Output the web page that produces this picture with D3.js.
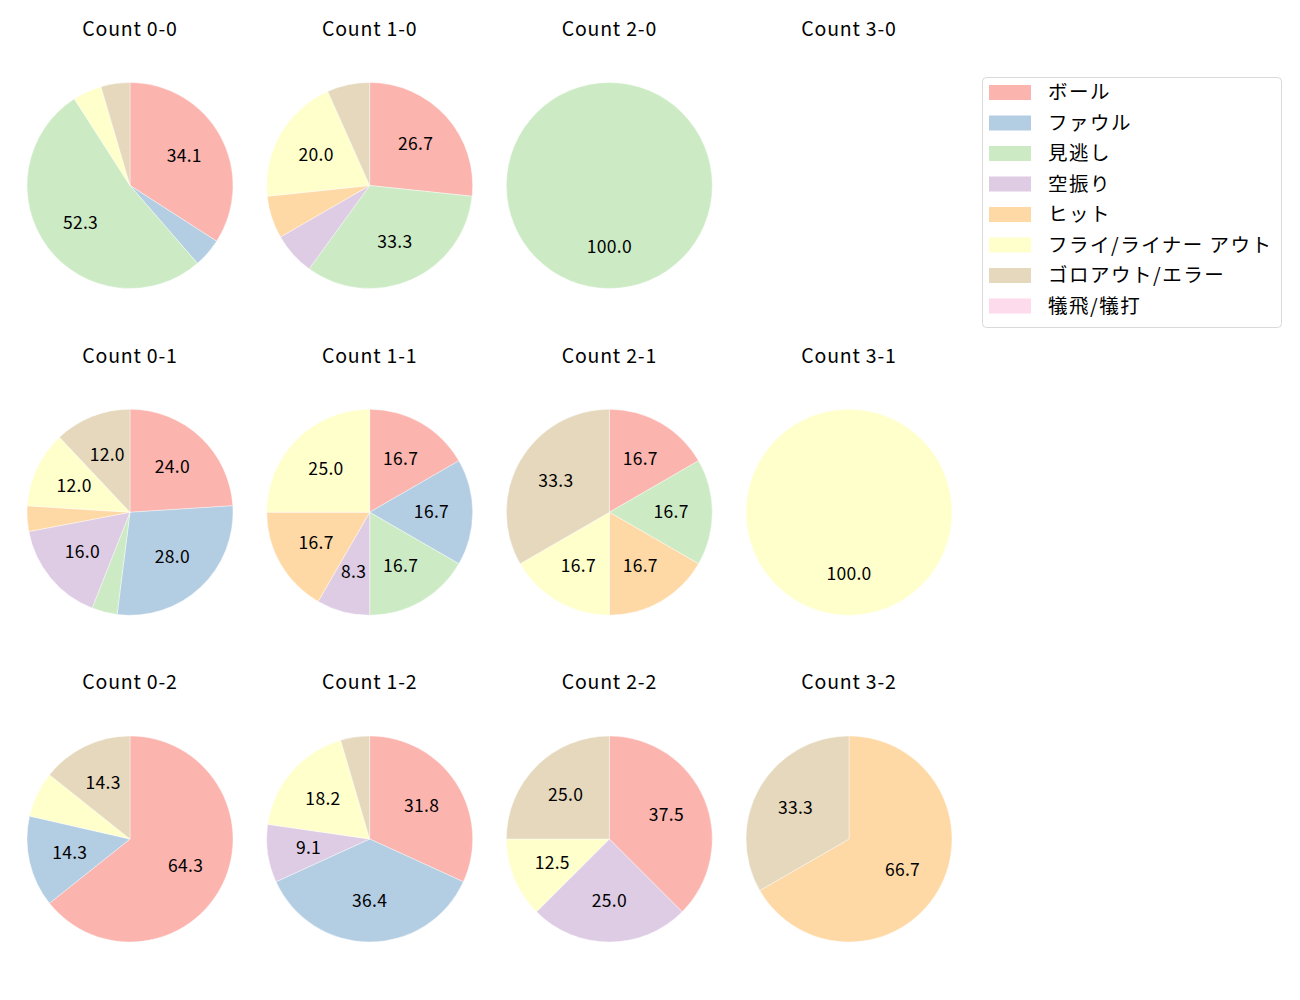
<!DOCTYPE html>
<html>
<head>
<meta charset="utf-8">
<script src="https://cdn.jsdelivr.net/npm/d3@7"></script>
<style>
  body { margin: 0; background: #fff; }
  text { font-family: "Noto Sans CJK JP", "Noto Sans", sans-serif; fill: #000; }
</style>
</head>
<body>
<div id="chart"></div>
<script>
const categories = ['ボール', 'ファウル', '見逃し', '空振り', 'ヒット', 'フライ/ライナー アウト', 'ゴロアウト/エラー', '犠飛/犠打']
const colors = ['#fbb4ae', '#b3cde3', '#ccebc5', '#decbe4', '#fed9a6', '#ffffcc', '#e5d8bd', '#fddaec']

const titles = [
  'Count 0-0', 'Count 1-0', 'Count 2-0', 'Count 3-0',
  'Count 0-1', 'Count 1-1', 'Count 2-1', 'Count 3-1',
  'Count 0-2', 'Count 1-2', 'Count 2-2', 'Count 3-2'
]

// counts per category, in the order of `categories`
const count00 = [15, 2, 23, 0, 0, 2, 2, 0]
const count10 = [4, 0, 5, 1, 1, 3, 1, 0]
const count20 = [0, 0, 1, 0, 0, 0, 0, 0]
const count30 = [0, 0, 0, 0, 0, 0, 0, 0]
const count01 = [6, 7, 1, 4, 1, 3, 3, 0]
const count11 = [2, 2, 2, 1, 2, 3, 0, 0]
const count21 = [1, 0, 1, 0, 1, 1, 2, 0]
const count31 = [0, 0, 0, 0, 0, 1, 0, 0]
const count02 = [9, 2, 0, 0, 0, 1, 2, 0]
const count12 = [7, 8, 0, 2, 0, 4, 1, 0]
const count22 = [3, 0, 0, 2, 0, 1, 2, 0]
const count32 = [0, 0, 0, 0, 2, 0, 1, 0]

const allCounts = [count00, count10, count20, count30, count01, count11, count21, count31, count02, count12, count22, count32]

const width = 1300, height = 1000
const radius = 103
const colX = d3.scaleLinear().domain([0, 3]).range([130, 849])
const rowY = d3.scaleLinear().domain([0, 2]).range([185.5, 839])

const svg = d3.select('#chart').append('svg')
  .attr('width', width)
  .attr('height', height)

const pie = d3.pie().sort(null).value(d => d)
const arc = d3.arc().innerRadius(0).outerRadius(radius)
const labelArc = d3.arc().innerRadius(radius * 0.6).outerRadius(radius * 0.6)

allCounts.forEach((counts, i) => {
  const col = i % 4, row = Math.floor(i / 4)
  const g = svg.append('g')
    .attr('transform', 'translate(' + colX(col) + ',' + rowY(row) + ')')

  g.append('text')
    .attr('x', 0)
    .attr('y', -156.5)
    .attr('dy', '0.35em')
    .attr('text-anchor', 'middle')
    .style('font-size', '19.5px')
    .style('letter-spacing', '0.8px')
    .text(titles[i])

  const total = d3.sum(counts)
  if (total === 0) return

  const arcs = pie(counts).map((d, k) => Object.assign(d, { k: k })).filter(d => d.value > 0)

  g.selectAll('path.slice')
    .data(arcs)
    .join('path')
    .attr('class', 'slice')
    .attr('d', arc)
    .attr('fill', d => colors[d.k])
    .attr('stroke', '#fff')
    .attr('stroke-width', 0.4)

  g.selectAll('text.pct')
    .data(arcs.filter(d => d.value / total * 100 >= 8))
    .join('text')
    .attr('class', 'pct')
    .attr('transform', d => 'translate(' + labelArc.centroid(d) + ')')
    .attr('text-anchor', 'middle')
    .attr('dy', '0.35em')
    .style('font-size', '17.5px')
    .style('letter-spacing', '0.3px')
    .text(d => (d.value / total * 100).toFixed(1))
})

// legend
const legend = svg.append('g').attr('transform', 'translate(982,77)')
legend.append('rect')
  .attr('x', 0.5).attr('y', 0.5)
  .attr('width', 299).attr('height', 250)
  .attr('rx', 4)
  .attr('fill', '#fff')
  .attr('stroke', '#d9d9d9')

const rowScale = d3.scaleLinear().domain([0, 7]).range([15.5, 229])
categories.forEach((c, k) => {
  legend.append('rect')
    .attr('x', 7).attr('y', rowScale(k) - 7.5)
    .attr('width', 42).attr('height', 15)
    .attr('fill', colors[k])
  legend.append('text')
    .attr('x', 66).attr('y', rowScale(k))
    .attr('dy', '0.35em')
    .style('font-size', '19.5px')
    .style('letter-spacing', '1.5px')
    .text(c)
})
</script>
</body>
</html>
